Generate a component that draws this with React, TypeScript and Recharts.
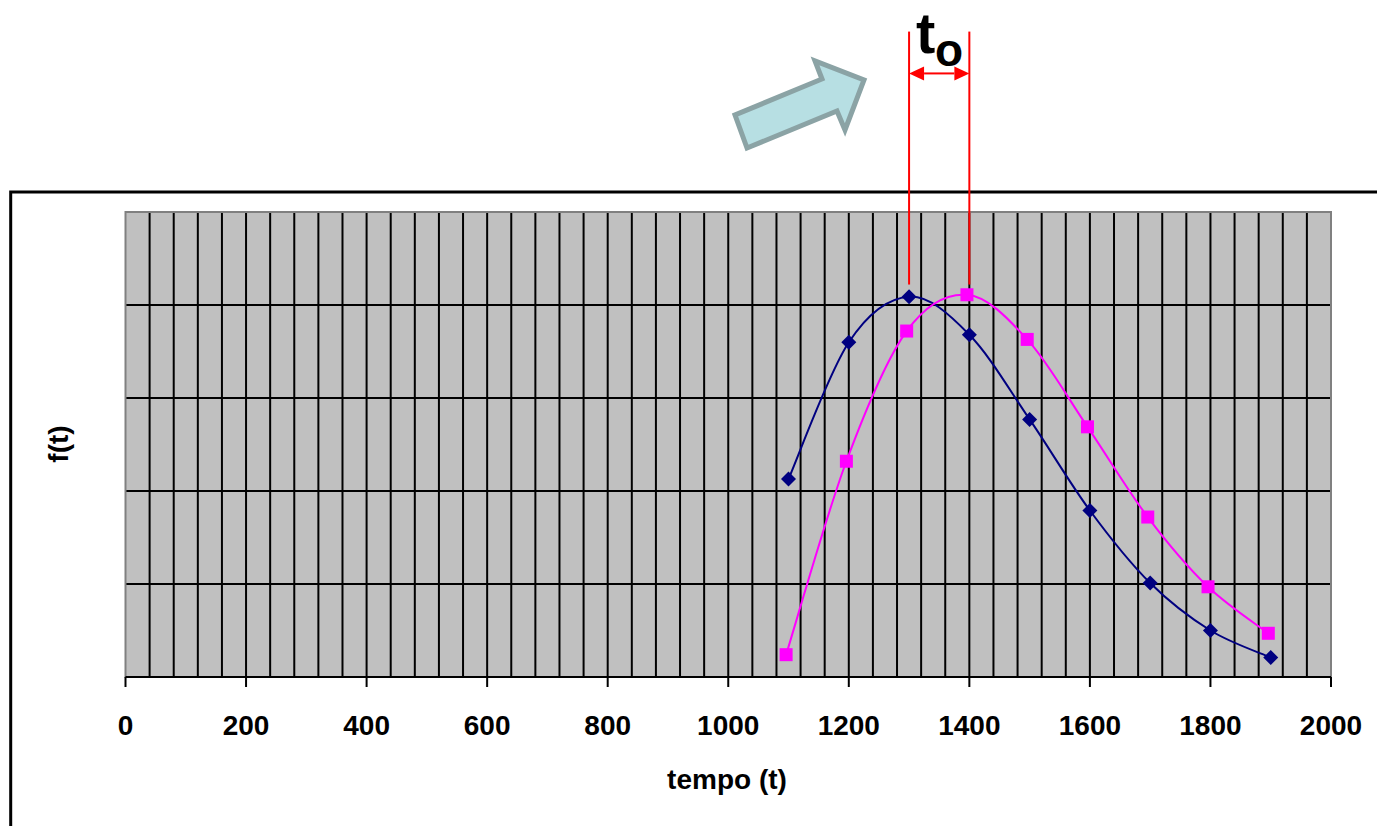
import React from 'react';
import { LineChart, Line, XAxis, YAxis, CartesianGrid, ReferenceLine, ReferenceArea } from 'recharts';

// ---- data ----
const blueX = [1100, 1200, 1300, 1400, 1500, 1600, 1700, 1800, 1900];
const blueY = [2.13, 3.6, 4.09, 3.68, 2.77, 1.79, 1.01, 0.5, 0.21];
const pinkX = [1096, 1196, 1296, 1396, 1496, 1596, 1696, 1796, 1896];
const pinkY = [0.24, 2.32, 3.72, 4.11, 3.63, 2.69, 1.72, 0.97, 0.47];
const xTicks = [0, 200, 400, 600, 800, 1000, 1200, 1400, 1600, 1800, 2000];
const yGrid = [1, 2, 3, 4];
const xGrid = Array.from({ length: 49 }, (_, i) => (i + 1) * 40);
const markerLines = [1300, 1400];

const blueData = blueX.map((x, i) => ({ x, y: blueY[i] }));
const pinkData = pinkX.map((x, i) => ({ x, y: pinkY[i] }));

const FONT = '"Liberation Sans", Arial, sans-serif';

// Excel-like smoothing (Catmull-Rom via cubic Bezier)
function excelCurve(context: any) {
  let pts: number[][] = [];
  return {
    areaStart() {},
    areaEnd() {},
    lineStart() {
      pts = [];
    },
    lineEnd() {
      const n = pts.length;
      if (!n) return;
      context.moveTo(pts[0][0], pts[0][1]);
      for (let i = 0; i < n - 1; i++) {
        const p0 = pts[i === 0 ? 0 : i - 1];
        const p1 = pts[i];
        const p2 = pts[i + 1];
        const p3 = pts[i + 2 < n ? i + 2 : n - 1];
        context.bezierCurveTo(
          p1[0] + (p2[0] - p0[0]) / 6,
          p1[1] + (p2[1] - p0[1]) / 6,
          p2[0] - (p3[0] - p1[0]) / 6,
          p2[1] - (p3[1] - p1[1]) / 6,
          p2[0],
          p2[1]
        );
      }
    },
    point(x: number, y: number) {
      pts.push([+x, +y]);
    },
  };
}

const Diamond = (props: any) => {
  const { cx, cy, index } = props;
  if (cx == null || cy == null) return <g key={`d${index}`} />;
  const r = 7.5;
  return (
    <polygon
      key={`d${index}`}
      points={`${cx},${cy - r} ${cx + r},${cy} ${cx},${cy + r} ${cx - r},${cy}`}
      fill="#000080"
    />
  );
};

const Square = (props: any) => {
  const { cx, cy, index } = props;
  if (cx == null || cy == null) return <g key={`s${index}`} />;
  const h = 6.5;
  return <rect key={`s${index}`} x={cx - h} y={cy - h} width={2 * h} height={2 * h} fill="#FF00FF" />;
};

const DoubleArrow = (props: any) => {
  const { x1, y1, x2 } = props;
  const a = 15;
  const w = 7;
  return (
    <g>
      <line x1={x1 + a} y1={y1} x2={x2 - a} y2={y1} stroke="#FF0000" strokeWidth={2} />
      <polygon points={`${x1},${y1} ${x1 + a},${y1 - w} ${x1 + a},${y1 + w}`} fill="#FF0000" />
      <polygon points={`${x2},${y1} ${x2 - a},${y1 - w} ${x2 - a},${y1 + w}`} fill="#FF0000" />
    </g>
  );
};

const gridLineStyle = { stroke: '#000', strokeWidth: 2, strokeOpacity: 1 };

export default function App() {
  return (
    <div style={{ position: 'absolute', left: 0, top: 0, width: 1377, height: 826, background: '#fff' }}>
      <svg width={1377} height={826} style={{ position: 'absolute', left: 0, top: 0 }}>
        <path d="M 10.7 830 V 192 H 1380" fill="none" stroke="#000" strokeWidth={3} />
        <polygon
          points="747,148 735,115 822,79 815,61 864,80 845,130 837,111"
          fill="#B7DFE3"
          stroke="#8BA3A5"
          strokeWidth={5}
          strokeLinejoin="miter"
        />
        <text x={916} y={53} fontFamily={FONT} fontWeight="bold" fontSize={58} fill="#000">
          t
        </text>
        <text x={935} y={66} fontFamily={FONT} fontWeight="bold" fontSize={46} fill="#000">
          o
        </text>
        <text x={727} y={789} textAnchor="middle" fontFamily={FONT} fontWeight="bold" fontSize={28} fill="#000">
          tempo (t)
        </text>
        <text
          x={68}
          y={444}
          textAnchor="middle"
          transform="rotate(-90 68 444)"
          fontFamily={FONT}
          fontWeight="bold"
          fontSize={28}
          fill="#000"
        >
          f(t)
        </text>
      </svg>
      <div style={{ position: 'absolute', left: 0, top: 0 }}>
        <LineChart width={1377} height={826} margin={{ top: 212, right: 46, bottom: 89, left: 125.5 }}>
          <CartesianGrid
            fill="#C0C0C0"
            fillOpacity={1}
            stroke="#000"
            strokeWidth={2}
            strokeOpacity={1}
            vertical={gridLineStyle}
            horizontal={gridLineStyle}
            verticalValues={xGrid}
            horizontalValues={yGrid}
          />
          <ReferenceArea x1={0} x2={2000} y1={0} y2={5} fill="none" stroke="#808080" strokeWidth={2} />
          <XAxis
            type="number"
            dataKey="x"
            domain={[0, 2000]}
            ticks={xTicks}
            interval={0}
            height={60}
            tickSize={10}
            tickMargin={28}
            axisLine={{ stroke: '#000', strokeWidth: 2 }}
            tickLine={{ stroke: '#000', strokeWidth: 2 }}
            tick={{ fill: '#000', fontSize: 28, fontWeight: 'bold', fontFamily: FONT }}
            allowDataOverflow
          />
          <YAxis type="number" dataKey="y" domain={[0, 5]} hide allowDataOverflow />
          {markerLines.map((v) => (
            <ReferenceLine
              key={v}
              segment={[
                { x: v, y: 4.22 },
                { x: v, y: 6.94 },
              ]}
              stroke="#FF0000"
              strokeWidth={2}
              ifOverflow="visible"
            />
          ))}
          <ReferenceLine
            segment={[
              { x: markerLines[0], y: 6.49 },
              { x: markerLines[1], y: 6.49 },
            ]}
            ifOverflow="visible"
            shape={DoubleArrow}
          />
          <Line
            data={blueData}
            dataKey="y"
            type={excelCurve as any}
            stroke="#000080"
            strokeWidth={2}
            dot={Diamond}
            activeDot={false}
            isAnimationActive={false}
          />
          <Line
            data={pinkData}
            dataKey="y"
            type={excelCurve as any}
            stroke="#FF00FF"
            strokeWidth={2}
            dot={Square}
            activeDot={false}
            isAnimationActive={false}
          />
        </LineChart>
      </div>
    </div>
  );
}
